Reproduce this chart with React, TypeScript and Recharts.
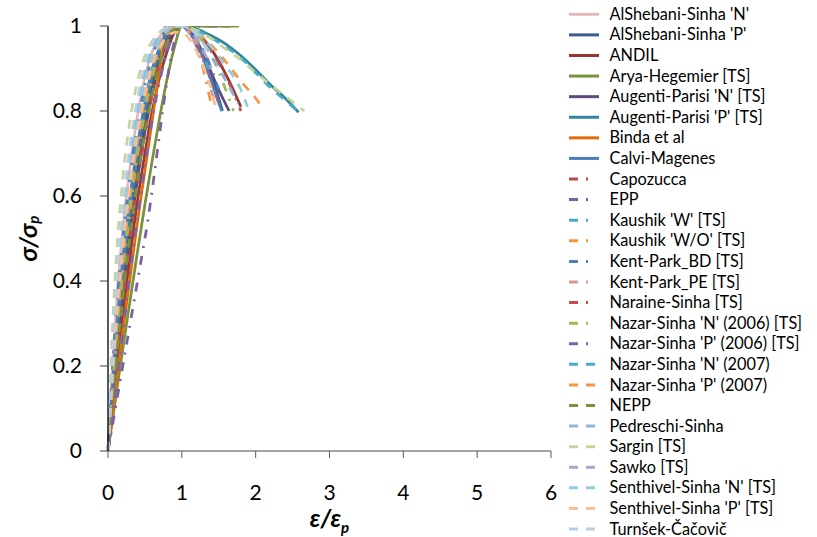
import React from "react";
import { Line, LineChart, XAxis, YAxis } from "recharts";

type Pt = [number, number];

// stress-strain curves, normalised (x = eps/eps_p, y = sigma/sigma_p)
const alShebaniN: Pt[] = [[0, 0], [0.05, 0.17], [0.1, 0.31], [0.2, 0.52], [0.3, 0.67], [0.4, 0.79], [0.5, 0.88], [0.6, 0.94], [0.7, 0.975], [0.8, 0.993], [0.9, 1], [1, 1], [1.1, 0.99], [1.2, 0.965], [1.3, 0.925], [1.4, 0.875], [1.5, 0.815]];
const alShebaniP: Pt[] = [[0, 0], [0.05, 0.1], [0.1, 0.19], [0.2, 0.36], [0.3, 0.51], [0.4, 0.64], [0.5, 0.75], [0.6, 0.84], [0.7, 0.91], [0.8, 0.96], [0.9, 0.99], [1, 1], [1.1, 0.99], [1.2, 0.965], [1.3, 0.93], [1.4, 0.885], [1.55, 0.8]];
const andil: Pt[] = [[0, 0], [0.05, 0.08], [0.1, 0.16], [0.2, 0.32], [0.3, 0.46], [0.4, 0.59], [0.5, 0.7], [0.6, 0.8], [0.7, 0.88], [0.8, 0.94], [0.9, 0.985], [1, 1], [1.2, 0.985], [1.4, 0.945], [1.6, 0.885], [1.8, 0.81]];
const arya: Pt[] = [[0, 0], [0.1, 0.12], [0.2, 0.24], [0.3, 0.355], [0.4, 0.47], [0.5, 0.58], [0.6, 0.685], [0.7, 0.785], [0.8, 0.875], [0.9, 0.95], [1, 1], [1.77, 1]];
const augentiN: Pt[] = [[0, 0], [0.05, 0.1], [0.1, 0.2], [0.2, 0.38], [0.3, 0.53], [0.4, 0.66], [0.5, 0.77], [0.6, 0.86], [0.7, 0.93], [0.8, 0.975], [0.9, 0.995], [1, 1], [1.1, 0.99], [1.2, 0.965], [1.3, 0.93], [1.4, 0.89], [1.5, 0.85], [1.64, 0.8]];
const augentiP: Pt[] = [[0, 0], [0.05, 0.12], [0.1, 0.23], [0.2, 0.42], [0.3, 0.57], [0.4, 0.7], [0.5, 0.8], [0.6, 0.88], [0.7, 0.94], [0.8, 0.98], [0.9, 0.996], [1, 1], [1.2, 0.993], [1.4, 0.977], [1.6, 0.957], [1.8, 0.93], [2, 0.897], [2.2, 0.862], [2.4, 0.83], [2.58, 0.797]];
const binda: Pt[] = [[0, 0], [0.1, 0.14], [0.2, 0.28], [0.3, 0.41], [0.4, 0.54], [0.5, 0.66], [0.6, 0.78], [0.7, 0.9], [0.8, 1.03]];
const calvi: Pt[] = [[0, 0], [0.05, 0.13], [0.1, 0.25], [0.2, 0.45], [0.3, 0.6], [0.4, 0.72], [0.5, 0.82], [0.6, 0.9], [0.7, 0.95], [0.8, 0.985], [0.9, 0.998], [1, 1], [1.1, 0.985], [1.2, 0.96], [1.3, 0.92], [1.4, 0.87], [1.54, 0.8]];
const capozucca: Pt[] = [[0, 0], [0.05, 0.11], [0.1, 0.21], [0.2, 0.4], [0.3, 0.55], [0.4, 0.68], [0.5, 0.79], [0.6, 0.87], [0.7, 0.93], [0.8, 0.975], [0.9, 0.995], [1, 1], [1.1, 0.99], [1.2, 0.96], [1.3, 0.92]];
const epp: Pt[] = [[0, 0], [0.5, 0.5], [1, 1], [1.7, 1]];
const kaushikW: Pt[] = [[0, 0], [0.05, 0.14], [0.1, 0.27], [0.2, 0.47], [0.3, 0.62], [0.4, 0.74], [0.5, 0.83], [0.6, 0.9], [0.7, 0.95], [0.8, 0.985], [0.9, 0.998], [1, 1], [1.1, 0.99], [1.25, 0.95], [1.4, 0.88]];
const kaushikWO: Pt[] = [[0, 0], [0.05, 0.12], [0.1, 0.23], [0.2, 0.42], [0.3, 0.57], [0.4, 0.7], [0.5, 0.8], [0.6, 0.88], [0.7, 0.94], [0.8, 0.98], [0.9, 0.996], [1, 1], [1.1, 0.985], [1.2, 0.955], [1.3, 0.89], [1.4, 0.814]];
const kentBD: Pt[] = [[0, 0], [0.05, 0.16], [0.1, 0.3], [0.2, 0.5], [0.3, 0.65], [0.4, 0.77], [0.5, 0.86], [0.6, 0.93], [0.7, 0.97], [0.8, 0.99], [0.9, 1], [1, 1], [1.2, 0.97], [1.4, 0.9], [1.5, 0.85]];
const kentPE: Pt[] = [[0, 0], [0.05, 0.12], [0.1, 0.24], [0.2, 0.43], [0.3, 0.58], [0.4, 0.71], [0.5, 0.81], [0.6, 0.89], [0.7, 0.95], [0.8, 0.985], [0.9, 0.998], [1, 1], [1.1, 0.985], [1.2, 0.95], [1.3, 0.9], [1.45, 0.82]];
const naraine: Pt[] = [[0, 0], [0.05, 0.09], [0.1, 0.18], [0.2, 0.35], [0.3, 0.5], [0.4, 0.63], [0.5, 0.74], [0.6, 0.84], [0.7, 0.91], [0.8, 0.96], [0.9, 0.99], [1, 1], [1.2, 0.985], [1.4, 0.94], [1.6, 0.88], [1.8, 0.8]];
const nazarN06: Pt[] = [[0, 0], [0.05, 0.12], [0.1, 0.23], [0.2, 0.42], [0.3, 0.57], [0.4, 0.7], [0.5, 0.8], [0.6, 0.88], [0.7, 0.94], [0.8, 0.98], [0.9, 0.996], [1, 1], [1.2, 0.98], [1.4, 0.93], [1.55, 0.87], [1.7, 0.8]];
const nazarP06: Pt[] = [[0, 0], [0.05, 0.07], [0.1, 0.14], [0.2, 0.28], [0.3, 0.42], [0.4, 0.55], [0.5, 0.67], [0.6, 0.78], [0.7, 0.87], [0.8, 0.94], [0.9, 0.985], [1, 1], [1.1, 0.985], [1.2, 0.955], [1.3, 0.915], [1.4, 0.87], [1.5, 0.82]];
const nazarN07: Pt[] = [[0, 0], [0.05, 0.15], [0.1, 0.28], [0.2, 0.48], [0.3, 0.63], [0.4, 0.75], [0.5, 0.84], [0.6, 0.91], [0.7, 0.96], [0.8, 0.99], [0.9, 1], [1, 1], [1.2, 0.99], [1.4, 0.972], [1.6, 0.95], [1.8, 0.925], [2, 0.89], [2.2, 0.855], [2.4, 0.825], [2.6, 0.795]];
const nazarP07: Pt[] = [[0, 0], [0.05, 0.13], [0.1, 0.25], [0.2, 0.45], [0.3, 0.6], [0.4, 0.73], [0.5, 0.83], [0.6, 0.9], [0.7, 0.95], [0.8, 0.985], [0.9, 0.998], [1, 1], [1.2, 0.985], [1.4, 0.955], [1.6, 0.915], [1.8, 0.87], [2, 0.83], [2.1, 0.806]];
const nepp: Pt[] = [[0, 0], [0.05, 0.1], [0.1, 0.19], [0.2, 0.36], [0.3, 0.51], [0.4, 0.64], [0.5, 0.75], [0.6, 0.84], [0.7, 0.91], [0.8, 0.96], [0.9, 0.99], [1, 1], [1.77, 1]];
const pedreschi: Pt[] = [[0, 0], [0.05, 0.18], [0.1, 0.33], [0.2, 0.55], [0.3, 0.7], [0.4, 0.81], [0.5, 0.89], [0.6, 0.945], [0.7, 0.98], [0.8, 0.995], [0.9, 1], [1, 1], [1.2, 0.98], [1.4, 0.93], [1.6, 0.87], [1.76, 0.818]];
const sargin: Pt[] = [[0, 0], [0.05, 0.25], [0.1, 0.42], [0.2, 0.64], [0.3, 0.78], [0.4, 0.87], [0.5, 0.93], [0.6, 0.965], [0.7, 0.985], [0.8, 0.995], [0.9, 1], [1, 1], [1.2, 0.99], [1.4, 0.97], [1.6, 0.945], [1.8, 0.92], [2, 0.89], [2.2, 0.862], [2.4, 0.835], [2.66, 0.8]];
const sawko: Pt[] = [[0, 0], [0.05, 0.14], [0.1, 0.27], [0.2, 0.47], [0.3, 0.62], [0.4, 0.74], [0.5, 0.84], [0.6, 0.91], [0.7, 0.96], [0.8, 0.99], [0.9, 1], [1, 1], [1.2, 0.97], [1.4, 0.9]];
const senthivelN: Pt[] = [[0, 0], [0.05, 0.16], [0.1, 0.3], [0.2, 0.51], [0.3, 0.66], [0.4, 0.78], [0.5, 0.87], [0.6, 0.93], [0.7, 0.97], [0.8, 0.99], [0.9, 1], [1, 1], [1.2, 0.985], [1.4, 0.95], [1.6, 0.905], [1.8, 0.85], [1.89, 0.81]];
const senthivelP: Pt[] = [[0, 0], [0.05, 0.15], [0.1, 0.28], [0.2, 0.48], [0.3, 0.63], [0.4, 0.75], [0.5, 0.84], [0.6, 0.91], [0.7, 0.95], [0.8, 0.975], [0.9, 0.985], [1, 0.985], [1.1, 0.97], [1.2, 0.94], [1.3, 0.9], [1.4, 0.85], [1.47, 0.795]];
const turnsek: Pt[] = [[0, 0], [0.05, 0.19], [0.1, 0.35], [0.2, 0.57], [0.3, 0.72], [0.4, 0.83], [0.5, 0.91], [0.6, 0.96], [0.7, 0.985], [0.8, 0.997], [0.9, 1], [1, 1], [1.2, 0.98], [1.35, 0.94]];

const xTicks = [0, 1, 2, 3, 4, 5, 6];
const yTicks = [0, 0.2, 0.4, 0.6, 0.8, 1];

const SOLID = "";
const DASH_DOT = "9 8 2 8";
const DASHED = "9 8";

const series = [
  { name: "AlShebani-Sinha 'N'", color: "#E6B9B8", dash: SOLID, pts: alShebaniN },
  { name: "AlShebani-Sinha 'P'", color: "#385D8A", dash: SOLID, pts: alShebaniP },
  { name: "ANDIL", color: "#953735", dash: SOLID, pts: andil },
  { name: "Arya-Hegemier [TS]", color: "#77933C", dash: SOLID, pts: arya },
  { name: "Augenti-Parisi 'N' [TS]", color: "#604A7B", dash: SOLID, pts: augentiN },
  { name: "Augenti-Parisi 'P' [TS]", color: "#31859C", dash: SOLID, pts: augentiP },
  { name: "Binda et al", color: "#E46C0A", dash: SOLID, pts: binda },
  { name: "Calvi-Magenes", color: "#4A7EBB", dash: SOLID, pts: calvi },
  { name: "Capozucca", color: "#BE4B48", dash: DASH_DOT, pts: capozucca },
  { name: "EPP", color: "#7D60A0", dash: DASH_DOT, pts: epp },
  { name: "Kaushik 'W' [TS]", color: "#46AAC5", dash: DASH_DOT, pts: kaushikW },
  { name: "Kaushik 'W/O' [TS]", color: "#F69240", dash: DASH_DOT, pts: kaushikWO },
  { name: "Kent-Park_BD [TS]", color: "#4F81BD", dash: DASH_DOT, pts: kentBD },
  { name: "Kent-Park_PE [TS]", color: "#D99694", dash: DASH_DOT, pts: kentPE },
  { name: "Naraine-Sinha [TS]", color: "#C0504D", dash: DASH_DOT, pts: naraine },
  { name: "Nazar-Sinha 'N' (2006) [TS]", color: "#9BBB59", dash: DASH_DOT, pts: nazarN06 },
  { name: "Nazar-Sinha 'P' (2006) [TS]", color: "#8064A2", dash: DASH_DOT, pts: nazarP06 },
  { name: "Nazar-Sinha 'N' (2007)", color: "#4BACC6", dash: DASHED, pts: nazarN07 },
  { name: "Nazar-Sinha 'P' (2007)", color: "#F79646", dash: DASHED, pts: nazarP07 },
  { name: "NEPP", color: "#77933C", dash: DASHED, pts: nepp },
  { name: "Pedreschi-Sinha", color: "#95B3D7", dash: DASHED, pts: pedreschi },
  { name: "Sargin [TS]", color: "#C3D69B", dash: DASHED, pts: sargin },
  { name: "Sawko [TS]", color: "#B3A2C7", dash: DASHED, pts: sawko },
  { name: "Senthivel-Sinha 'N' [TS]", color: "#93CDDD", dash: DASHED, pts: senthivelN },
  { name: "Senthivel-Sinha 'P' [TS]", color: "#FAC090", dash: DASHED, pts: senthivelP },
  { name: "Turnšek-Čačovič", color: "#B9CDE5", dash: DASHED, pts: turnsek },
];

const FONT = "Lato, 'Open Sans', sans-serif";

function YTitle({ viewBox }: any) {
  const cx = 27;
  const cy = viewBox.y + viewBox.height / 2;
  return (
    <text
      x={cx}
      y={cy}
      transform={`rotate(-90, ${cx}, ${cy})`}
      textAnchor="middle"
      dominantBaseline="central"
      fontSize={25}
      fontWeight="bold"
      fontStyle="italic"
      fill="#000"
    >
      σ/σ<tspan fontSize={15} dy={6}>p</tspan>
    </text>
  );
}

function XTitle({ viewBox }: any) {
  const cx = viewBox.x + viewBox.width / 2;
  return (
    <text x={cx} y={527} textAnchor="middle" fontSize={25} fontWeight="bold" fontStyle="italic" fill="#000">
      ε/ε<tspan fontSize={15} dy={6}>p</tspan>
    </text>
  );
}

function SeriesLegend() {
  return (
    <svg width={257} height={537} style={{ position: "absolute", left: 560, top: 0, fontFamily: FONT }}>
      {series.map((s, i) => {
        const y = 14.3 + i * 20.59;
        // the legend sample only has room for one dash and one dot
        const dash = s.dash === DASH_DOT ? "9 8 2 20" : s.dash || undefined;
        return (
          <g key={s.name}>
            <line x1={9} x2={39} y1={y} y2={y} stroke={s.color} strokeWidth={3} strokeDasharray={dash} />
            <text x={49.5} y={y + 5.6} fontSize={16.3} fill="#000">
              {s.name}
            </text>
          </g>
        );
      })}
    </svg>
  );
}

export default function App() {
  return (
    <div style={{ position: "absolute", left: 0, top: 0, width: 817, height: 537, background: "#fff" }}>
      <LineChart
        width={817}
        height={537}
        margin={{ top: 26, right: 266, bottom: 0, left: 0 }}
        style={{ fontFamily: FONT }}
      >
        <XAxis
          dataKey="x"
          type="number"
          domain={[0, 6]}
          ticks={xTicks}
          height={86}
          stroke="#868686"
          axisLine={{ stroke: "#868686", strokeWidth: 1.5 }}
          tickLine={{ stroke: "#595959" }}
          tickSize={7}
          tickMargin={27}
          tick={{ fill: "#000", fontSize: 21 }}
          label={<XTitle />}
        />
        <YAxis
          type="number"
          domain={[0, 1]}
          allowDataOverflow
          ticks={yTicks}
          width={108}
          axisLine={{ stroke: "#000", strokeWidth: 1.3 }}
          tickLine={{ stroke: "#404040" }}
          tickSize={8}
          tickMargin={18}
          tick={{ fill: "#000", fontSize: 21 }}
          label={<YTitle />}
        />
        {series.map((s) => (
          <Line
            key={s.name}
            name={s.name}
            data={s.pts.map(([x, y]) => ({ x, y }))}
            dataKey="y"
            type="monotone"
            stroke={s.color}
            strokeWidth={2.75}
            strokeDasharray={s.dash || undefined}
            dot={false}
            activeDot={false}
            isAnimationActive={false}
          />
        ))}
      </LineChart>
      <SeriesLegend />
    </div>
  );
}
